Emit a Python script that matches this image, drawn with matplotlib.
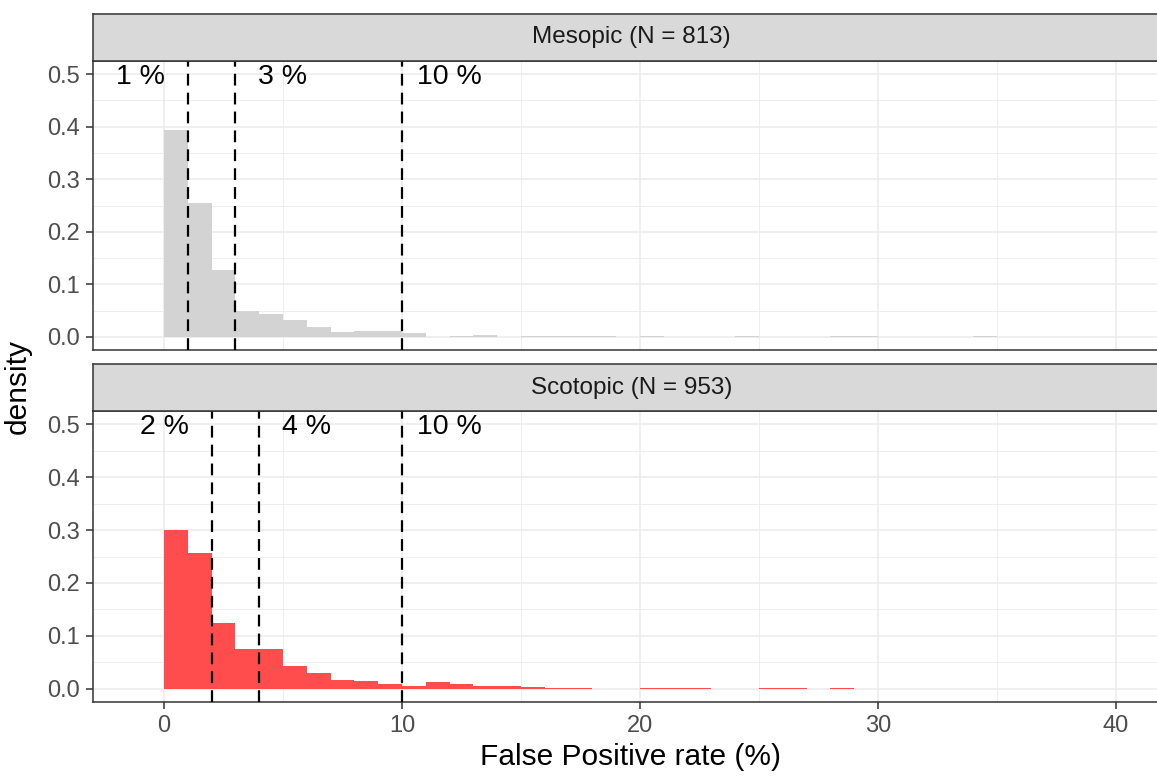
import numpy as np
import matplotlib.pyplot as plt

plt.rcParams['font.family'] = ['Liberation Sans', 'DejaVu Sans']

# histogram densities, bin width 1 starting at 0
meso_density = [0.393, 0.254, 0.128, 0.049, 0.044, 0.032, 0.019, 0.0095, 0.011, 0.012,
                0.0076, 0, 0.0012, 0.0037, 0, 0.0025, 0.0012, 0.0025, 0.0025, 0,
                0.0012, 0, 0, 0, 0.0012, 0, 0, 0, 0.0012, 0.0012,
                0, 0, 0, 0, 0.0012]
scot_density = [0.300, 0.256, 0.124, 0.075, 0.075, 0.0425, 0.0305, 0.0158, 0.0145, 0.0082,
                0.006, 0.0127, 0.0083, 0.0045, 0.0045, 0.0032, 0.001, 0.001, 0, 0,
                0.0021, 0.001, 0.0021, 0, 0, 0.001, 0.001, 0, 0.001]

meso_cuts = [1, 3, 10]
meso_labels = ['1 %', '3 %', '10 %']
scot_cuts = [2, 4, 10]
scot_labels = ['2 %', '4 %', '10 %']
label_offsets = [-2, 2, 2]

W, H = 1157, 777
fig = plt.figure(figsize=(W / 100, H / 100), dpi=100)

left_px, right_px = 92.5, 1170
x0_px, px_per_unit = 164, 23.8
xlim = ((left_px - x0_px) / px_per_unit, (right_px - x0_px) / px_per_unit)

border = '#333333'
gridc = '#EBEBEB'


def panel(top_px, bottom_px, strip_h, title, dens, fill, cuts, labels, show_x):
    L = left_px / W
    Wd = (right_px - left_px) / W
    ax = fig.add_axes([L, 1 - bottom_px / H, Wd, (bottom_px - top_px) / H])
    sax = fig.add_axes([L, 1 - top_px / H, Wd, strip_h / H])

    sax.set_facecolor('#D9D9D9')
    sax.set_xticks([])
    sax.set_yticks([])
    for s in sax.spines.values():
        s.set_color(border)
        s.set_linewidth(1.1)
    sax.text(0.5, 0.5, title, transform=sax.transAxes, ha='center', va='center',
             fontsize=17.5, color='#1A1A1A')

    ax.bar(np.arange(len(dens)), dens, width=1, align='edge', color=fill,
           linewidth=0, zorder=2)
    for c, lab, off in zip(cuts, labels, label_offsets):
        ax.axvline(c, color='black', linewidth=1.6, linestyle=(0, (5.3, 3.2)), zorder=3)
        ax.text(c + off, 0.5, lab, ha='center', va='center_baseline', fontsize=20.5,
                color='black', zorder=4)

    ax.set_xlim(*xlim)
    ax.set_ylim(-0.025, 0.525)
    ax.set_xticks([0, 10, 20, 30, 40])
    ax.set_xticks([5, 15, 25, 35], minor=True)
    ax.set_yticks([0, 0.1, 0.2, 0.3, 0.4, 0.5])
    ax.set_yticks([0.05, 0.15, 0.25, 0.35, 0.45], minor=True)
    ax.set_yticklabels(['0.0', '0.1', '0.2', '0.3', '0.4', '0.5'])
    ax.grid(which='major', color=gridc, linewidth=1.1, zorder=0)
    ax.grid(which='minor', color=gridc, linewidth=0.6, zorder=0)
    ax.set_axisbelow(True)
    ax.tick_params(which='minor', length=0)
    ax.tick_params(which='major', length=5, width=1.1, color=border,
                   labelsize=17, labelcolor='#4D4D4D', pad=4)
    if not show_x:
        ax.tick_params(axis='x', length=0, labelbottom=False)
    for s in ax.spines.values():
        s.set_color(border)
        s.set_linewidth(1.1)
    return ax


panel(61, 350, 47, 'Mesopic (N = 813)', meso_density, '#D3D3D3',
      meso_cuts, meso_labels, False)
panel(411, 702, 47, 'Scotopic (N = 953)', scot_density, '#FF4D4D',
      scot_cuts, scot_labels, True)

fig.text(630 / W, 1 - 757 / H, 'False Positive rate (%)', ha='center', va='center',
         fontsize=21.5, color='black')
fig.text(18 / W, 1 - 386 / H, 'density', ha='center', va='center', rotation=90,
         fontsize=21.5, color='black')

fig.savefig('out.png', dpi=100)
